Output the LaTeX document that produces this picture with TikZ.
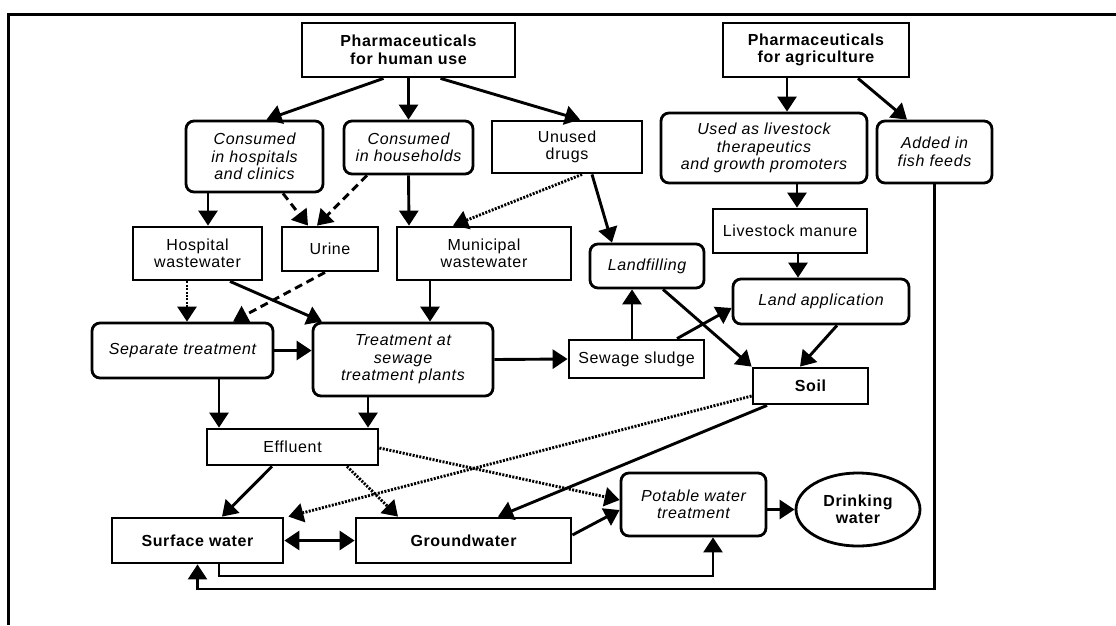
\documentclass[tikz,border=0pt]{standalone}
\usepackage{fontspec}
\setmainfont{Liberation Sans}[LetterSpace=4]
\usetikzlibrary{arrows.meta,shapes.geometric,calc}
\tikzset{
  base/.style={draw,line width=2.8pt,align=center,inner sep=1pt,font=\fontsize{16}{17.5}\selectfont},
  sqbox/.style={base,rectangle},
  rbox/.style={base,rectangle,rounded corners=8pt,font=\fontsize{16}{17.5}\selectfont\itshape},
  bbox/.style={base,rectangle,font=\fontsize{16}{17.5}\selectfont\bfseries},
  tip/.tip={Triangle[length=15pt,width=19pt]},
  conn/.style={line width=2.9pt,-tip},
  dconn/.style={conn,dash pattern=on 8pt off 5pt},
  pconn/.style={conn,dash pattern=on 2pt off 1.4pt},
}
\begin{document}
\begin{tikzpicture}[x=1pt,y=-1pt]
\useasboundingbox (0,0) rectangle (1116,625);
\draw[line width=3pt] (1116,14) -- (8,14) -- (8,625);
% top row
\node[bbox,minimum width=213pt,minimum height=54pt] (ph) at (408.5,50) {Pharmaceuticals\\for human use};
\node[bbox,minimum width=186pt,minimum height=54pt] (pa) at (816,50) {Pharmaceuticals\\for agriculture};
% second row
\node[rbox,minimum width=137pt,minimum height=71pt] (ch) at (254.5,156.5) {Consumed\\in hospitals\\and clinics};
\node[rbox,minimum width=129pt,minimum height=53pt] (chh) at (408.5,147.5) {Consumed\\in households};
\node[sqbox,minimum width=150pt,minimum height=52pt] (ud) at (567,147) {Unused\\drugs};
\node[rbox,minimum width=206pt,minimum height=70pt] (ul) at (764,148) {Used as livestock\\therapeutics\\and growth promoters};
\node[rbox,minimum width=115pt,minimum height=62pt] (ff) at (934.5,152) {Added in\\fish feeds};
% third row
\node[sqbox,minimum width=129pt,minimum height=53pt] (hw) at (197.5,253.5) {Hospital\\wastewater};
\node[sqbox,minimum width=96pt,minimum height=44pt] (ur) at (330,249) {Urine};
\node[sqbox,minimum width=174pt,minimum height=53pt] (mw) at (484,253.5) {Municipal\\wastewater};
\node[sqbox,minimum width=154pt,minimum height=44pt] (lm) at (790,231) {Livestock manure};
\node[rbox,minimum width=114pt,minimum height=44pt] (lf) at (647,266) {Landfilling};
\node[rbox,minimum width=176pt,minimum height=45pt] (la) at (821,301.5) {Land application};
% fourth row
\node[rbox,minimum width=181pt,minimum height=55pt] (st) at (182.5,350.5) {Separate treatment};
\node[rbox,minimum width=180pt,minimum height=73pt] (tstp) at (403,359.5) {Treatment at\\sewage\\treatment plants};
\node[sqbox,minimum width=135pt,minimum height=38pt] (ss) at (636.5,359) {Sewage sludge};
\node[bbox,minimum width=115pt,minimum height=36pt] (soil) at (810.5,386) {Soil};
% fifth row
\node[sqbox,minimum width=171pt,minimum height=36pt] (ef) at (292.5,447) {Effluent};
\node[bbox,minimum width=171pt,minimum height=45pt] (sw) at (197.5,540.5) {Surface water};
\node[bbox,minimum width=215pt,minimum height=45pt] (gw) at (463.5,540.5) {Groundwater};
\node[rbox,minimum width=145pt,minimum height=63pt] (pw) at (693.5,504.5) {Potable water\\treatment};
\node[base,ellipse,font=\fontsize{16}{17.5}\selectfont\bfseries,minimum width=124pt,minimum height=73pt,inner sep=0pt] (dw) at (858,509.5) {Drinking\\water};
\coordinate (bot1) at (0,576);
\coordinate (bot2) at (0,589);
% connectors
\draw[conn] ([xshift=-25pt]ph.south) -- ([xshift=12pt]ch.north);
\draw[conn] (ph.south) -- (chh.north);
\draw[conn] ([xshift=32pt]ph.south) -- ([xshift=13pt]ud.north);
\draw[conn] ([xshift=-29pt]pa.south) -- ([xshift=23pt]ul.north);
\draw[conn] ([xshift=42pt]pa.south) -- ([xshift=-27.5pt]ff.north);
\draw[conn] ([xshift=-46.5pt]ch.south) -- ([xshift=10.5pt]hw.north);
\draw[dconn] ([xshift=28.5pt]ch.south) -- ([xshift=-22pt]ur.north);
\draw[dconn] ([xshift=-41.5pt]chh.south) -- ([xshift=-13pt]ur.north);
\draw[conn] (chh.south) -- ([xshift=-75pt]mw.north);
\draw[pconn] ([xshift=15pt]ud.south) -- ([xshift=-31pt]mw.north);
\draw[conn] ([xshift=25pt]ud.south) -- ([xshift=-35pt]lf.north);
\draw[conn] ([xshift=33pt]ul.south) -- ([xshift=7pt]lm.north);
\draw[conn] ([xshift=8pt]lm.south) -- ([xshift=-23pt]la.north);
\draw[pconn] ([xshift=-10.5pt]hw.south) -- ([xshift=4.5pt]st.north);
\draw[dconn] ([xshift=-5pt]ur.south) -- ([xshift=50.5pt]st.north);
\draw[conn] ([xshift=32.5pt]hw.south) -- ([xshift=-81pt]tstp.north);
\draw[conn] ([xshift=-54pt]mw.south) -- ([xshift=27pt]tstp.north);
\draw[conn] (st.east) -- (st.east -| tstp.west);
\draw[conn] (tstp.east) -- (ss.west);
\draw[conn] ([xshift=-4.5pt]ss.north) -- ([xshift=-15pt]lf.south);
\draw[conn] ([xshift=40.5pt]ss.north) -- ([yshift=-6.5pt]la.west);
\draw[conn] ([xshift=16pt]lf.south) -- (soil.north west);
\draw[conn] ([xshift=16pt]la.south) -- ([xshift=-10.5pt]soil.north);
\draw[conn] ([xshift=36.5pt]st.south) -- ([xshift=-73.5pt]ef.north);
\draw[conn] ([xshift=-35pt]tstp.south) -- ([xshift=75.5pt]ef.north);
\draw[conn] ([xshift=-20.5pt]ef.south) -- ([xshift=24.5pt]sw.north);
\draw[pconn] ([xshift=54.5pt]ef.south) -- ([xshift=-65.5pt]gw.north);
\draw[pconn] ([yshift=-1pt]ef.east) -- ([yshift=4.5pt]pw.west);
\draw[pconn] ([yshift=-10pt]soil.west) -- ([xshift=4pt]sw.north east);
\draw[conn] ([xshift=-43.5pt]soil.south) -- ([xshift=34.5pt]gw.north);
\draw[conn,tip-tip] (sw.east) -- (gw.west);
\draw[conn] ([yshift=5.5pt]gw.east) -- ([yshift=-5.5pt]pw.west);
\draw[conn] (dw.west -| pw.east) -- (dw.west);
\draw[conn,line width=2.5pt] ([xshift=21.5pt]sw.south) -- ([xshift=21.5pt]sw.south |- bot1) -| ([xshift=19.5pt]pw.south);
\draw[conn,line width=2.5pt] (ff.south) -- (ff.south |- bot2) -| (sw.south);
\end{tikzpicture}
\end{document}
